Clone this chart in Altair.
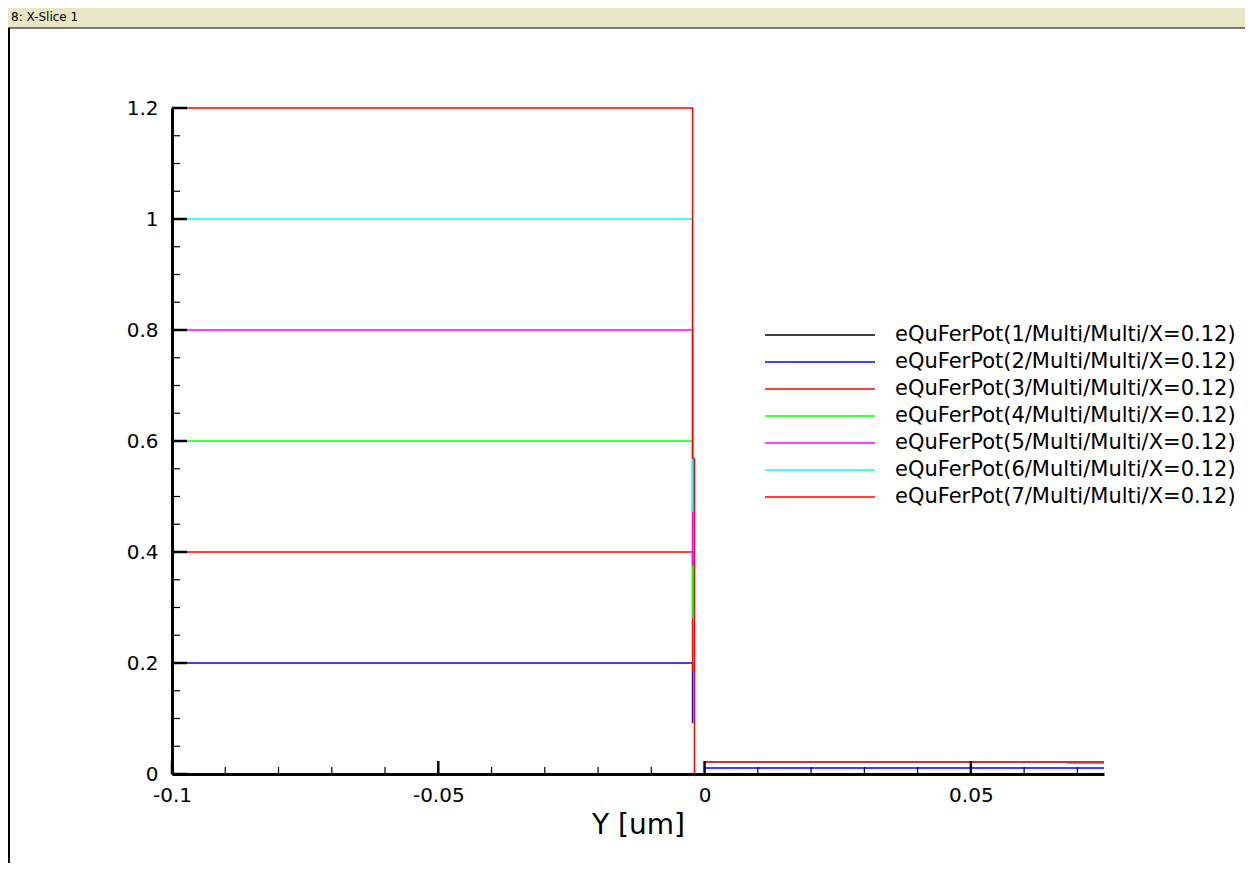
import altair as alt
import pandas as pd

# ---------------- data ----------------
series_names = [
    "eQuFerPot(1/Multi/Multi/X=0.12)",
    "eQuFerPot(2/Multi/Multi/X=0.12)",
    "eQuFerPot(3/Multi/Multi/X=0.12)",
    "eQuFerPot(4/Multi/Multi/X=0.12)",
    "eQuFerPot(5/Multi/Multi/X=0.12)",
    "eQuFerPot(6/Multi/Multi/X=0.12)",
    "eQuFerPot(7/Multi/Multi/X=0.12)",
]
series_colors = ["#000000", "#0000ff", "#ff0000", "#00ff00", "#ff00ff", "#00ffff", "#ff0000"]

# left region (Y < 0) of each series
left_x = [
    [-0.1, -0.00225],
    [-0.1, -0.00225, -0.00225],
    [-0.1, -0.00225, -0.00225],
    [-0.1, -0.00225, -0.00225],
    [-0.1, -0.00225, -0.00225],
    [-0.1, -0.00225, -0.00225],
    [-0.1, -0.00225, -0.00225, -0.0019, -0.0019],
]
left_y = [
    [0.0, 0.0],
    [0.2, 0.2, 0.092],
    [0.4, 0.4, 0.184],
    [0.6, 0.6, 0.281],
    [0.8, 0.8, 0.375],
    [1.0, 1.0, 0.472],
    [1.2, 1.2, 0.57, 0.568, 0.0],
]
# right region (Y > 0) of each series
right_x = [
    [0.0, 0.075],
    [0.0, 0.075],
    [0.0, 0.075],
    [0.0, 0.0682, 0.0682, 0.075],
    [0.0, 0.075],
    [0.0, 0.075],
    [0.0, 0.075],
]
right_y = [
    [0.0, 0.0],
    [0.011, 0.011],
    [0.0215, 0.0215],
    [0.0215, 0.0215, 0.0195, 0.0195],
    [0.0215, 0.0215],
    [0.0215, 0.0215],
    [0.0215, 0.0215],
]

x_major = [-0.1, -0.05, 0.0, 0.05]
x_minor = [-0.09, -0.08, -0.07, -0.06, -0.04, -0.03, -0.02, -0.01,
           0.01, 0.02, 0.03, 0.04, 0.06, 0.07]
y_major = [0.0, 0.2, 0.4, 0.6, 0.8, 1.0, 1.2]
y_minor = [0.05, 0.1, 0.15, 0.25, 0.3, 0.35, 0.45, 0.5, 0.55, 0.65, 0.7, 0.75,
           0.85, 0.9, 0.95, 1.05, 1.1, 1.15]
x_title = "Y [um]"
window_title = ["8: X-Slice 1"]

# ---------------- tables ----------------
rows = []
for i, name in enumerate(series_names):
    for seg, (xs_, ys_) in enumerate([(left_x[i], left_y[i]), (right_x[i], right_y[i])]):
        for k, (xv, yv) in enumerate(zip(xs_, ys_)):
            rows.append({"series": name, "key": f"{i}-{seg}", "idx": k, "x": xv, "y": yv})
df = pd.DataFrame(rows)

leg_df = pd.DataFrame({"series": series_names, "row": list(range(len(series_names)))})

FONT = "DejaVu Sans"
xs = alt.Scale(domain=[-0.1, 0.075], nice=False, zero=False)
ys = alt.Scale(domain=[0, 1.2], nice=False, zero=False)
cs = alt.Scale(domain=series_names, range=series_colors)

x_axis = alt.Axis(values=x_major, labelExpr="toString(datum.value)", ticks=False,
                  domainColor="black", domainWidth=3, labelFontSize=20, labelPadding=11,
                  labelColor="black", labelFont=FONT, title=x_title, titleFontSize=28,
                  titleFont=FONT, titleFontWeight="normal", titleColor="black",
                  titlePadding=6, grid=False, labelFlush=False, labelOverlap=False)
y_axis = alt.Axis(values=y_major, labelExpr="toString(datum.value)", ticks=False,
                  domainColor="black", domainWidth=3, labelFontSize=20, labelPadding=14,
                  labelColor="black", labelFont=FONT, title=None, grid=False,
                  labelFlush=False, labelOverlap=False)

X = alt.X("x:Q", scale=xs, axis=x_axis)
Y = alt.Y("y:Q", scale=ys, axis=y_axis)

lines = alt.Chart(df).mark_line(strokeWidth=1.5).encode(
    x=X, y=Y,
    color=alt.Color("series:N", scale=cs, legend=None),
    detail="key:N",
    order="idx:Q",
)

xmaj = alt.Chart(pd.DataFrame({"x": x_major})).mark_rule(color="black", strokeWidth=2.5).encode(
    x=X, y=alt.value(653), y2=alt.value(666))
xmin = alt.Chart(pd.DataFrame({"x": x_minor})).mark_rule(color="black", strokeWidth=1.2).encode(
    x=X, y=alt.value(659), y2=alt.value(666))
ymaj = alt.Chart(pd.DataFrame({"y": y_major})).mark_rule(color="black", strokeWidth=2.5).encode(
    y=Y, x=alt.value(0), x2=alt.value(15))
ymin = alt.Chart(pd.DataFrame({"y": y_minor})).mark_rule(color="black", strokeWidth=1.2).encode(
    y=Y, x=alt.value(0), x2=alt.value(8))

bar_df = pd.DataFrame({"t": window_title})
bar = alt.Chart(bar_df).mark_rect(color="#e8e6c4", stroke="black", strokeWidth=1).encode(
    x=alt.value(-166), x2=alt.value(1075), y=alt.value(-102), y2=alt.value(-80))
bar_text = alt.Chart(bar_df).mark_text(align="left", baseline="middle", fontSize=12,
                                        font=FONT, color="black").encode(
    x=alt.value(-161), y=alt.value(-91), text="t:N")
border = alt.Chart(bar_df).mark_rule(color="black", strokeWidth=2).encode(
    x=alt.value(-163), y=alt.value(-80), y2=alt.value(760))

main = alt.layer(lines, xmaj, xmin, ymaj, ymin, bar, bar_text, border)

LY = alt.Y("row:Q", scale=alt.Scale(domain=[0, 6], range=[227, 389]), axis=None)
leg_rules = alt.Chart(leg_df).mark_rule(strokeWidth=1.5).encode(
    x=alt.value(593), x2=alt.value(703), y=LY,
    color=alt.Color("series:N", scale=cs, legend=None))
leg_text = alt.Chart(leg_df).mark_text(align="left", baseline="middle", fontSize=21,
                                        font=FONT, color="black").encode(
    x=alt.value(723), y=LY, text="series:N")
legend = alt.layer(leg_rules, leg_text)

chart = alt.layer(main, legend).resolve_scale(y="independent").properties(
    width=932, height=666,
    padding={"left": 164, "top": 100, "right": 141, "bottom": 89},
    autosize=alt.AutoSizeParams(type="none"),
    background="white",
).configure_view(stroke=None)

chart.save("out.html", embed_options={"renderer": "svg", "actions": False})
